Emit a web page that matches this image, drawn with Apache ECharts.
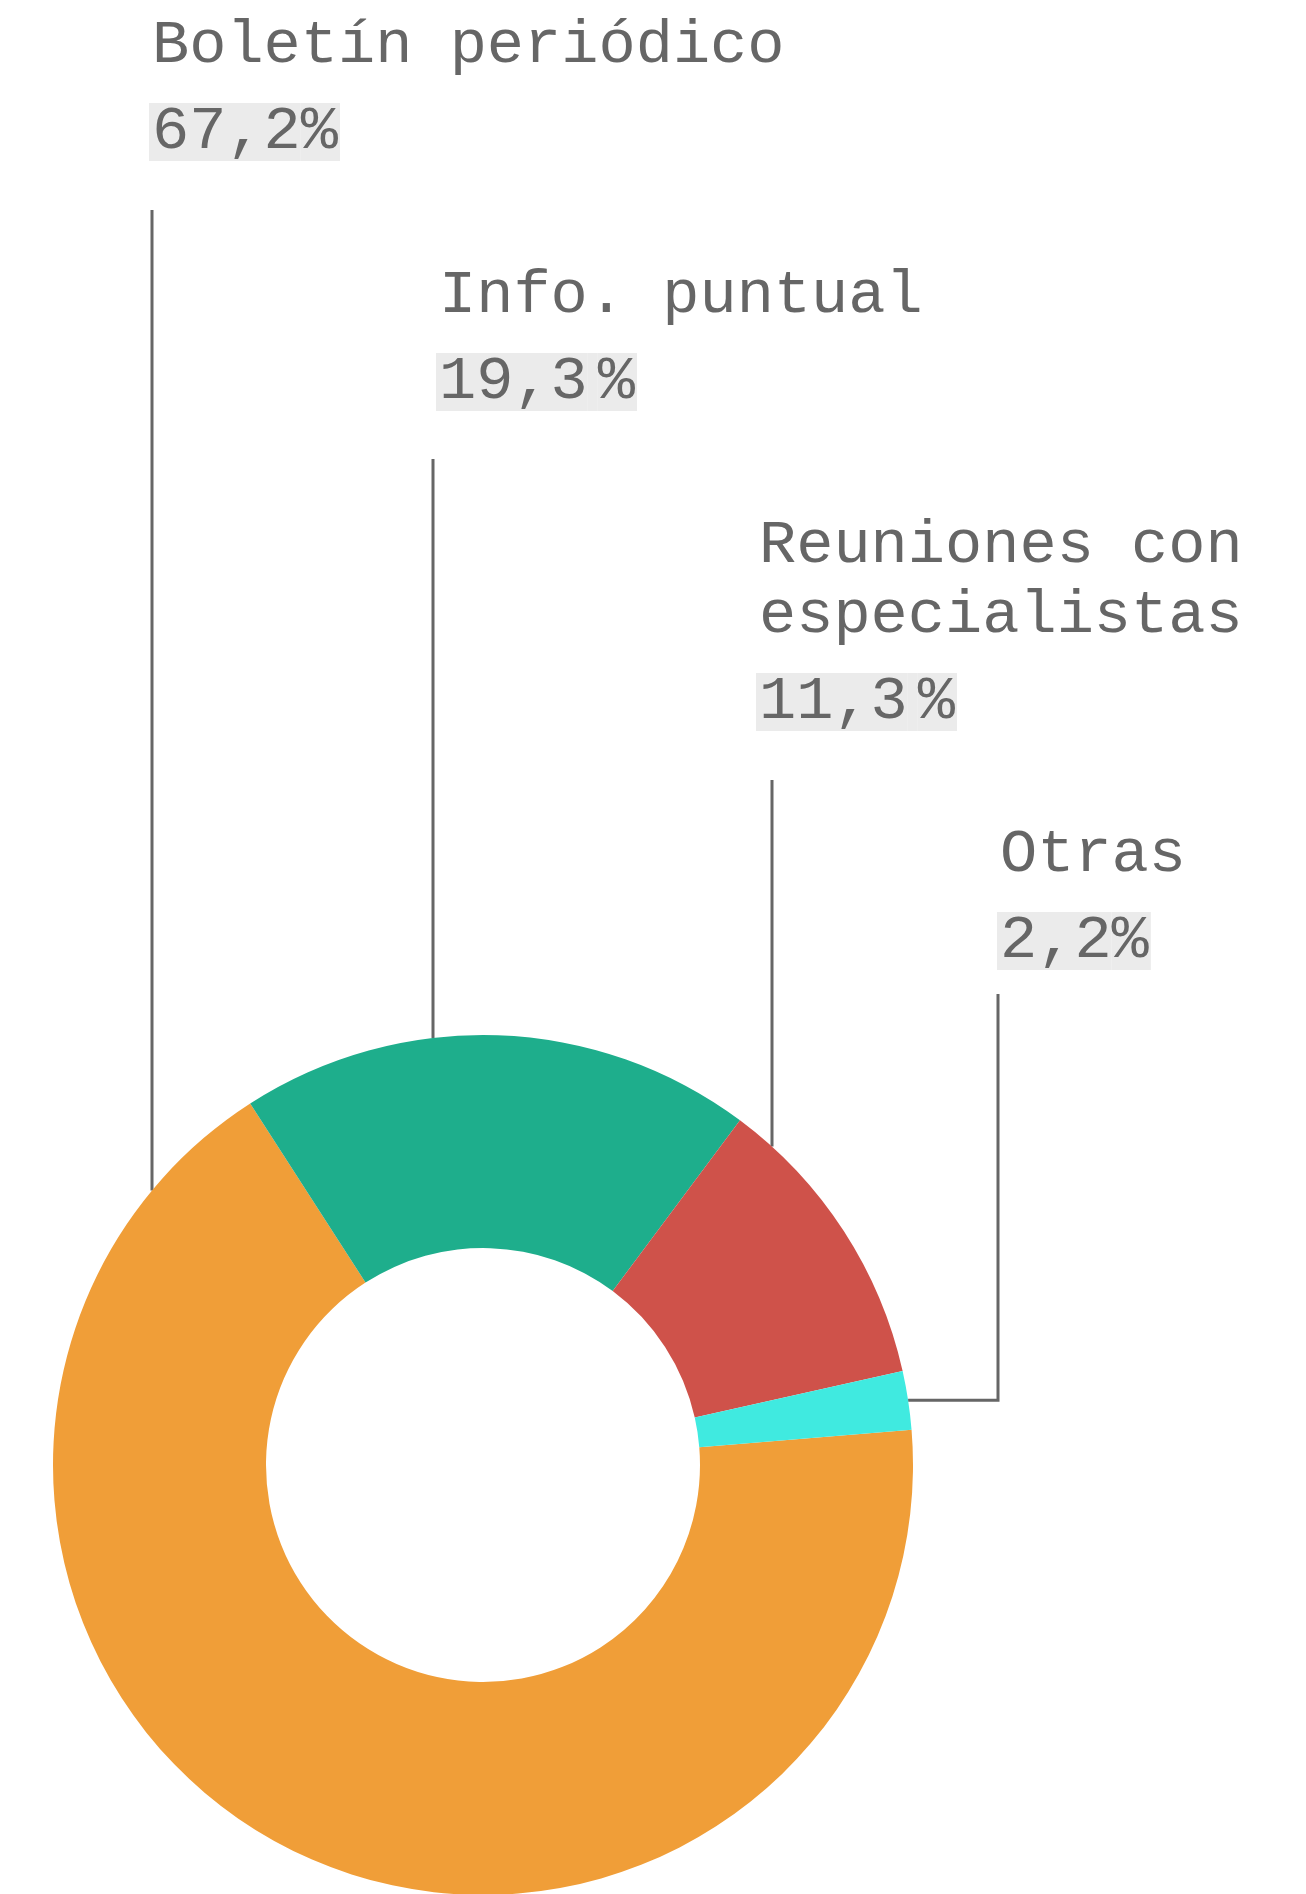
<!DOCTYPE html>
<html><head><meta charset="utf-8">
<script src="https://cdn.jsdelivr.net/npm/echarts@6/dist/echarts.min.js"></script>
<style>html,body{margin:0;padding:0;background:#fff}#c{width:1306px;height:1894px}</style>
</head><body><div id="c"></div>
<script>
// ---- data ----
const categories = ['Boletín periódico', 'Info. puntual', 'Reuniones con especialistas', 'Otras'];
const values = [67.2, 19.3, 11.3, 2.2];
const valueLabels = ['67,2%', '19,3 %', '11,3 %', '2,2%'];

// ---- style / layout ----
const colors = ['#F09E38', '#1EAE8C', '#CF524A', '#40EAE0'];
const FONT = '"Liberation Mono", "DejaVu Sans Mono", monospace';
const TXT = '#666666';
const BOX = '#ebebeb';
const CX = 483, CY = 1465, R_IN = 217, R_OUT = 430, START = 4.7;
const labelLeft = [149, 436, 756, 997];
const nameBaseline = [63, 313, 563, 872];
const lineX = [152, 433, 772, 998];
const lineTop = [210, 459, 780, 994];
const NAME_LH = 70, VAL_LH = 102, BASE_OFF = 17, WRAP = 17, FS = 62;

function wrap(str, n) {
  const words = str.split(' '); const out = []; let cur = '';
  words.forEach(w => {
    if (cur && (cur + ' ' + w).length > n) { out.push(cur); cur = w; }
    else cur = cur ? cur + ' ' + w : w;
  });
  if (cur) out.push(cur);
  return out;
}
const total = values.reduce((a, b) => a + b, 0);

const chart = echarts.init(document.getElementById('c'), null, {renderer: 'canvas'});
chart.setOption({
  animation: false,
  backgroundColor: '#ffffff',
  series: [{
    type: 'pie',
    center: [CX, CY],
    radius: [R_IN, R_OUT],
    startAngle: START,
    clockwise: true,
    avoidLabelOverlap: false,
    silent: true,
    data: categories.map((c, i) => ({name: c, value: values[i], itemStyle: {color: colors[i]}})),
    label: {
      show: true,
      position: 'outside',
      formatter: p => {
        const i = p.dataIndex;
        const lines = wrap(categories[i], WRAP).map(l => '{name|' + l + '}').join('\n');
        const s = valueLabels[i];
        const spaced = /\s%$/.test(s);
        const num = s.replace(/\s?%$/, '');
        return lines + '\n{v|' + num + '}' + (spaced ? '{sp| }' : '') + '{vp|%}';
      },
      rich: {
        name: {fontFamily: FONT, fontSize: FS, color: TXT, lineHeight: NAME_LH, padding: [0, 0, 0, 3]},
        v: {fontFamily: FONT, fontSize: FS, color: TXT, lineHeight: VAL_LH, height: 58, backgroundColor: BOX, padding: [0, 0, 0, 3]},
        sp: {fontFamily: FONT, fontSize: FS, color: TXT, lineHeight: VAL_LH, height: 58, width: 10, backgroundColor: BOX},
        vp: {fontFamily: FONT, fontSize: FS, color: TXT, lineHeight: VAL_LH, height: 58, backgroundColor: BOX, padding: [0, 2, 0, 0]}
      }
    },
    labelLine: {show: true, smooth: false, lineStyle: {color: '#666666', width: 3}},
    labelLayout: function (p) {
      const i = p.dataIndex;
      const x = lineX[i];
      const dx = x - CX;
      let pts;
      if (Math.abs(dx) < R_OUT) {
        const y2 = CY - Math.sqrt(R_OUT * R_OUT - dx * dx);
        pts = [[x, lineTop[i]], [x, y2], [x, y2]];
      } else {
        let cum = 0; for (let k = 0; k < i; k++) cum += values[k];
        const a = (START - 360 * (cum + values[i] / 2) / total) * Math.PI / 180;
        const px = CX + R_OUT * Math.cos(a), py = CY - R_OUT * Math.sin(a);
        pts = [[x, lineTop[i]], [x, py], [px, py]];
      }
      return {
        x: labelLeft[i],
        y: nameBaseline[i] - NAME_LH / 2 - BASE_OFF,
        align: 'left',
        verticalAlign: 'top',
        labelLinePoints: pts
      };
    }
  }]
});
</script>
</body></html>
